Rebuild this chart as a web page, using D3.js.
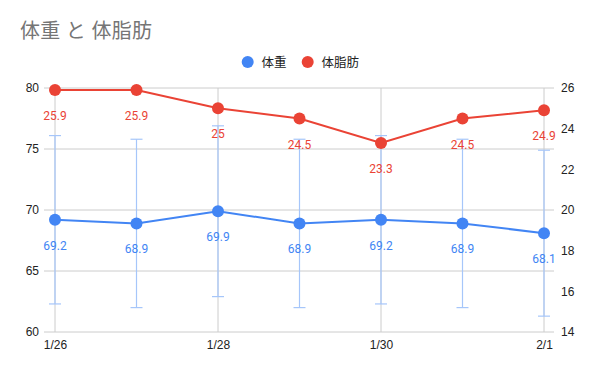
<!DOCTYPE html>
<html><head><meta charset="utf-8">
<script src="https://cdn.jsdelivr.net/npm/d3@7"></script>
<style>
body{margin:0;background:#fff;}
svg{display:block;font-family:Roboto,'Noto Sans CJK JP',sans-serif;}
</style></head><body>
<svg id="c" width="600" height="371"></svg>
<script>
const categories = ["1/26","1/27","1/28","1/29","1/30","1/31","2/1"];
const xTickLabels = ["1/26","1/28","1/30","2/1"];
const weight = [69.2, 68.9, 69.9, 68.9, 69.2, 68.9, 68.1];
const bodyFat = [25.9, 25.9, 25.0, 24.5, 23.3, 24.5, 24.9];
const weightLow = [62.3, 62.0, 62.9, 62.0, 62.3, 62.0, 61.3];
const weightHigh = [76.1, 75.8, 76.9, 75.8, 76.1, 75.8, 74.9];
const leftTicks = [60, 65, 70, 75, 80];
const rightTicks = [14, 16, 18, 20, 22, 24, 26];
const seriesNames = ["体重", "体脂肪"];
const title = "体重 と 体脂肪";

const svg = d3.select("#c");
const blue = "#4285f4", red = "#ea4335";
const pL = 44, pR = 554, pT = 88, pB = 332;

const x = d3.scalePoint().domain(categories).range([55, 544]);
const yL = d3.scaleLinear().domain([60, 80]).range([pB, pT]);
const yR = d3.scaleLinear().domain([14, 26]).range([pB, pT]);

// title
svg.append("text").attr("x", 20).attr("y", 38).attr("fill", "#757575")
  .attr("font-size", 20).attr("letter-spacing", 0.3).text(title);

// legend
const lg = svg.append("g").attr("font-size", 12.5).attr("fill", "#222");
[[247.7, blue, seriesNames[0], 261.5], [307.7, red, seriesNames[1], 321.5]].forEach(d => {
  lg.append("circle").attr("cx", d[0]).attr("cy", 62).attr("r", 6).attr("fill", d[1]);
  lg.append("text").attr("x", d[3]).attr("y", 66.5).text(d[2]);
});

// horizontal gridlines
svg.append("g").selectAll("line").data(leftTicks).join("line")
  .attr("x1", pL).attr("x2", pR)
  .attr("y1", d => yL(d)).attr("y2", d => yL(d))
  .attr("stroke", "#cccccc").attr("stroke-width", 1);
// vertical gridlines
svg.append("g").selectAll("line").data(xTickLabels).join("line")
  .attr("x1", d => x(d)).attr("x2", d => x(d))
  .attr("y1", pT).attr("y2", pB)
  .attr("stroke", "#cccccc").attr("stroke-width", 1);

// axes
const axL = d3.axisLeft(yL).tickValues(leftTicks).tickSize(0).tickPadding(5);
const gL = svg.append("g").attr("transform", `translate(${pL},0)`).call(axL);
const axR = d3.axisRight(yR).tickValues(rightTicks).tickSize(0).tickPadding(7);
const gR = svg.append("g").attr("transform", `translate(${pR},0)`).call(axR);
const axB = d3.axisBottom(x).tickValues(xTickLabels).tickSize(0).tickPadding(8);
const gB = svg.append("g").attr("transform", `translate(0,${pB})`).call(axB);
[gL, gR, gB].forEach(g => {
  g.select(".domain").remove();
  g.selectAll("text").attr("font-size", 12).attr("fill", "#222")
   .attr("font-family", "'Liberation Sans', Arial, sans-serif");
});

// error bars (interval) for weight
const eb = svg.append("g").attr("stroke", "#a6c6fa").attr("stroke-width", 1.2);
categories.forEach((c, i) => {
  const cx = x(c);
  eb.append("line").attr("x1", cx).attr("x2", cx).attr("y1", yL(weightLow[i])).attr("y2", yL(weightHigh[i]));
  eb.append("line").attr("x1", cx - 6).attr("x2", cx + 6).attr("y1", yL(weightLow[i])).attr("y2", yL(weightLow[i]));
  eb.append("line").attr("x1", cx - 6).attr("x2", cx + 6).attr("y1", yL(weightHigh[i])).attr("y2", yL(weightHigh[i]));
});

function drawSeries(vals, y, color) {
  const line = d3.line().x((d, i) => x(categories[i])).y(d => y(d));
  svg.append("path").datum(vals).attr("d", line).attr("fill", "none")
    .attr("stroke", color).attr("stroke-width", 2);
  svg.append("g").selectAll("circle").data(vals).join("circle")
    .attr("cx", (d, i) => x(categories[i])).attr("cy", d => y(d)).attr("r", 6)
    .attr("fill", color);
  svg.append("g").selectAll("text").data(vals).join("text")
    .attr("x", (d, i) => x(categories[i])).attr("y", d => y(d) + 30)
    .attr("text-anchor", "middle").attr("font-size", 12).attr("fill", color)
    .attr("font-family", "Roboto, sans-serif")
    .text(d => d3.format("")(d));
}
drawSeries(weight, yL, blue);
drawSeries(bodyFat, yR, red);
</script>
</body></html>
